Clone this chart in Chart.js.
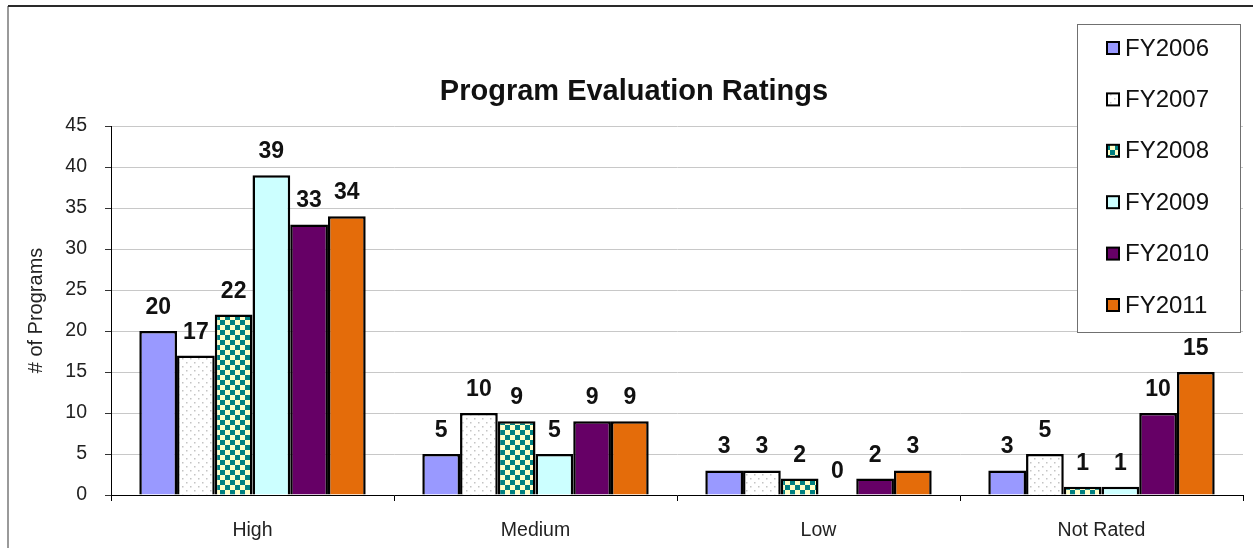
<!DOCTYPE html>
<html>
<head>
<meta charset="utf-8">
<script src="https://cdn.jsdelivr.net/npm/chart.js@4.4.1/dist/chart.umd.min.js"></script>
<style>
  html, body { margin: 0; padding: 0; background: #fff; }
  #wrap { width: 1253px; height: 548px; }
</style>
</head>
<body>
<div id="wrap"><canvas id="chart" width="1253" height="548"></canvas></div>
<script>
// values
const categories = ["High", "Medium", "Low", "Not Rated"];
const seriesNames = ["FY2006", "FY2007", "FY2008", "FY2009", "FY2010", "FY2011"];
const fy2006 = [20, 5, 3, 3];
const fy2007 = [17, 10, 3, 5];
const fy2008 = [22, 9, 2, 1];
const fy2009 = [39, 5, 0, 1];
const fy2010 = [33, 9, 2, 10];
const fy2011 = [34, 9, 3, 15];
const yTicks = [0, 5, 10, 15, 20, 25, 30, 35, 40, 45];

const FONT = "'Liberation Sans', Arial, Helvetica, sans-serif";

// dotted fill for FY2007
const makeDots = () => {
  const c = document.createElement("canvas");
  c.width = 8; c.height = 8;
  const g = c.getContext("2d");
  g.fillStyle = "#fff";
  g.fillRect(0, 0, 8, 8);
  g.fillStyle = "#c4c4c4";
  g.fillRect(2, 2, 1.5, 1.5);
  g.fillRect(6, 6, 1.5, 1.5);
  return g.createPattern(c, "repeat");
};

// checkerboard fill for FY2008
const makeChecks = () => {
  const c = document.createElement("canvas");
  c.width = 10; c.height = 10;
  const g = c.getContext("2d");
  g.fillStyle = "#ffffc8";
  g.fillRect(0, 0, 10, 10);
  g.fillStyle = "#008080";
  g.fillRect(0, 0, 5, 5);
  g.fillRect(5, 5, 5, 5);
  return g.createPattern(c, "repeat");
};

const fills = ["#9999ff", makeDots(), makeChecks(), "#ccffff", "#660066", "#e46c0a"];
const values = [fy2006, fy2007, fy2008, fy2009, fy2010, fy2011];

const frame = {
  id: "frame",
  beforeDraw(chart) {
    const ctx = chart.ctx;
    ctx.save();
    ctx.fillStyle = "#fff";
    ctx.fillRect(0, 0, chart.width, chart.height);
    ctx.strokeStyle = "#9a9a9a";
    ctx.lineWidth = 2;
    ctx.beginPath();
    ctx.moveTo(8, 6);
    ctx.lineTo(8, chart.height);
    ctx.stroke();
    ctx.strokeStyle = "#2a2a2a";
    ctx.beginPath();
    ctx.moveTo(8, 6);
    ctx.lineTo(chart.width, 6);
    ctx.stroke();
    ctx.restore();
  },
  afterDraw(chart) {
    const ctx = chart.ctx;
    ctx.save();
    // title
    ctx.fillStyle = "#111";
    ctx.font = "bold 29px " + FONT;
    ctx.textAlign = "center";
    ctx.textBaseline = "middle";
    ctx.fillText("Program Evaluation Ratings", 634, 92);

    // legend box
    ctx.fillStyle = "#fff";
    ctx.fillRect(1077, 24, 163, 308);
    ctx.strokeStyle = "#707070";
    ctx.lineWidth = 1;
    ctx.strokeRect(1077.5, 24.5, 163, 308);
    ctx.font = "24px " + FONT;
    ctx.textAlign = "left";
    chart.data.datasets.forEach((ds, i) => {
      const cy = 48 + i * 51.4;
      ctx.fillStyle = ds.backgroundColor;
      ctx.fillRect(1107, cy - 6, 12, 12);
      ctx.strokeStyle = "#000";
      ctx.lineWidth = 2;
      ctx.strokeRect(1107, cy - 6, 12, 12);
      ctx.fillStyle = "#111";
      ctx.fillText(ds.label, 1125, cy + 1);
    });
    ctx.restore();
  },
  afterDatasetsDraw(chart) {
    const ctx = chart.ctx;
    ctx.save();
    ctx.fillStyle = "#111";
    ctx.font = "bold 23px " + FONT;
    ctx.textAlign = "center";
    ctx.textBaseline = "alphabetic";
    chart.data.datasets.forEach((ds, i) => {
      chart.getDatasetMeta(i).data.forEach((bar, j) => {
        ctx.fillText(String(ds.data[j]), bar.x, bar.y - 17);
      });
    });
    ctx.restore();
  }
};

new Chart(document.getElementById("chart"), {
  type: "bar",
  data: {
    labels: categories,
    datasets: seriesNames.map((name, i) => ({
      label: name,
      data: values[i],
      backgroundColor: fills[i],
      borderColor: "#000",
      borderWidth: 2.5,
      categoryPercentage: 0.8,
      barPercentage: 1.0
    }))
  },
  options: {
    responsive: false,
    devicePixelRatio: 1,
    animation: false,
    layout: { padding: { left: 0, right: 10, top: 126, bottom: 0 } },
    plugins: {
      legend: { display: false },
      title: { display: false },
      tooltip: { enabled: false }
    },
    scales: {
      x: {
        afterFit: (s) => { s.height = 53; },
        grid: {
          offset: true,
          drawOnChartArea: false,
          drawTicks: true,
          tickLength: 6,
          tickColor: "#000"
        },
        border: { color: "#000", width: 1 },
        ticks: {
          color: "#222",
          font: { family: FONT, size: 19.5 },
          padding: 18
        }
      },
      y: {
        min: 0,
        max: 45,
        afterFit: (s) => { s.width = 111; },
        afterBuildTicks: (s) => { s.ticks = yTicks.map((v) => ({ value: v })); },
        grid: {
          color: "#c8c8c8",
          tickColor: "#333",
          tickLength: 6
        },
        border: { color: "#000", width: 1 },
        ticks: {
          color: "#222",
          font: { family: FONT, size: 19.5 },
          padding: 18
        },
        title: {
          display: true,
          text: "# of Programs",
          color: "#222",
          font: { family: FONT, size: 20 },
          padding: { top: 24, bottom: 0 }
        }
      }
    }
  },
  plugins: [frame]
});
</script>
</body>
</html>
